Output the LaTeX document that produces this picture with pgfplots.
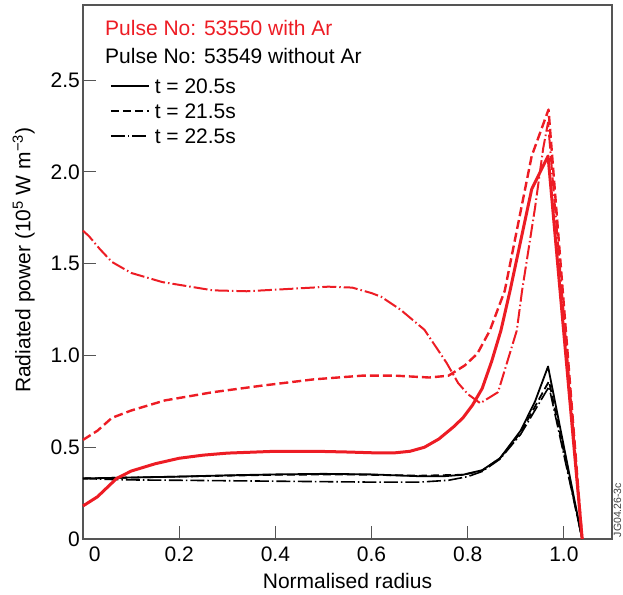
\documentclass[border=0pt]{standalone}
\usepackage{pgfplots}
\pgfplotsset{compat=1.18}
\usepackage{fontspec}
\setmainfont{Liberation Sans}
\definecolor{jetred}{RGB}{237,28,36}
\definecolor{framegray}{RGB}{85,85,85}
\newcommand{\bigfont}{\fontsize{21}{25}\selectfont}
\begin{document}
\begin{tikzpicture}
\begin{axis}[
  scale only axis, width=529pt, height=534pt,
  xmin=0, xmax=1.1, ymin=0, ymax=2.91,
  axis line style={framegray, line width=1.3pt},
  tick style={framegray, line width=1pt},
  major tick length=13pt,
  tick align=inside,
  xtick pos=bottom, ytick pos=left,
  xtick={0,0.2,0.4,0.6,0.8,1.0},
  xticklabels={\hphantom{00}0,0.2,0.4,0.6,0.8,1.0},
  ytick={0,0.5,1,1.5,2,2.5},
  yticklabels={0,0.5,1.0,1.5,2.0,2.5},
  tick label style={font=\bigfont, /pgf/number format/assume math mode=true},
  xticklabel style={inner sep=0pt, yshift=-8pt},
  yticklabel style={inner sep=0pt, xshift=-3pt},
  xlabel={Normalised radius},
  ylabel={Radiated power (10\textsuperscript{5} W m\textsuperscript{−3})},
  label style={font=\bigfont},
  xlabel style={at={(axis description cs:0.5,-0.0918)}, anchor=base},
  ylabel style={at={(axis description cs:-0.112,0.522)}, anchor=center},
  clip=false,
  legend cell align=left,
  legend style={draw=none, fill=none, font=\bigfont, inner sep=0pt, outer sep=0pt,
    at={(axis description cs:0.051,0.863)}, anchor=north west,
    row sep=6pt, column sep=5pt,
    nodes={inner sep=0pt, text height=15pt, text depth=4pt}},
  legend image code/.code={\draw[#1] (0pt,1.5pt) -- (38pt,1.5pt);},
  every axis plot/.append style={line join=round},
]
% black: pulse 53549 without Ar
\addplot[black, line width=1.8pt] coordinates {
(0,0.33) (0.1,0.335) (0.2,0.34) (0.3,0.347) (0.4,0.352) (0.5,0.355) (0.6,0.352)
(0.7,0.342) (0.75,0.342) (0.79,0.35) (0.83,0.375) (0.867,0.44) (0.91,0.59)
(0.94,0.75) (0.967,0.94) (1.038,0)};
\addlegendentry{t = 20.5s}
\addplot[black, line width=1.8pt, dash pattern=on 8pt off 4pt] coordinates {
(0,0.33) (0.1,0.335) (0.2,0.34) (0.3,0.345) (0.4,0.35) (0.55,0.352) (0.7,0.345)
(0.79,0.35) (0.83,0.372) (0.867,0.44) (0.91,0.58) (0.969,0.86) (1.038,0)};
\addlegendentry{t = 21.5s}
\addplot[black, line width=1.6pt, dash pattern=on 14pt off 3pt on 1.5pt off 3pt] coordinates {
(0,0.33) (0.05,0.325) (0.1,0.322) (0.2,0.32) (0.4,0.315) (0.6,0.31) (0.7,0.31)
(0.76,0.32) (0.8,0.34) (0.83,0.368) (0.867,0.435) (0.91,0.57) (0.969,0.83) (1.038,0)};
\addlegendentry{t = 22.5s}
% red: pulse 53550 with Ar
\addplot[jetred, line width=3pt, forget plot] coordinates {
(0,0.18) (0.03,0.23) (0.05,0.28) (0.07,0.33) (0.10,0.37) (0.15,0.41) (0.20,0.44)
(0.25,0.457) (0.30,0.468) (0.40,0.478) (0.50,0.477) (0.55,0.474) (0.60,0.47)
(0.65,0.47) (0.68,0.478) (0.71,0.50) (0.74,0.545) (0.77,0.61) (0.79,0.66)
(0.81,0.73) (0.83,0.82) (0.85,0.97) (0.869,1.136) (0.888,1.353) (0.933,1.906)
(0.967,2.087) (1.038,0)};
\addplot[jetred, line width=2.4pt, dash pattern=on 9pt off 4pt, forget plot] coordinates {
(0,0.54) (0.03,0.59) (0.06,0.66) (0.10,0.70) (0.17,0.755) (0.27,0.80) (0.37,0.835)
(0.48,0.87) (0.58,0.89) (0.65,0.89) (0.72,0.88) (0.76,0.89) (0.794,0.946)
(0.82,1.01) (0.846,1.136) (0.877,1.353) (0.933,2.087) (0.968,2.34) (1.038,0)};
\addplot[jetred, line width=2pt, dash pattern=on 14pt off 3pt on 1.5pt off 3pt, forget plot] coordinates {
(0,1.68) (0.0125,1.65) (0.035,1.58) (0.06,1.51) (0.10,1.45) (0.165,1.40)
(0.27,1.355) (0.34,1.35) (0.41,1.36) (0.51,1.375) (0.56,1.37) (0.60,1.34)
(0.62,1.32) (0.66,1.25) (0.71,1.14) (0.756,0.96) (0.78,0.85) (0.80,0.79)
(0.826,0.74) (0.863,0.80) (0.902,1.136) (0.913,1.353) (0.94,1.806) (0.957,2.13)
(0.967,2.27) (1.038,0)};
\node[anchor=base west, text=jetred, font=\bigfont, inner sep=0pt] at (axis description cs:0.0416,0.942) {Pulse No: 53550 with Ar};
\node[anchor=base west, text=black, font=\bigfont, inner sep=0pt] at (axis description cs:0.0416,0.891) {Pulse No: 53549 without Ar};
\node[rotate=90, anchor=north west, font=\fontsize{10.5}{12}\selectfont, text=black!75, inner sep=0pt] at (axis description cs:1.003,0.003) {JG04.26-3c};
\end{axis}
\pgfresetboundingbox
\path[use as bounding box] (-83pt,-55pt) rectangle (540pt,539pt);
\end{tikzpicture}
\end{document}
